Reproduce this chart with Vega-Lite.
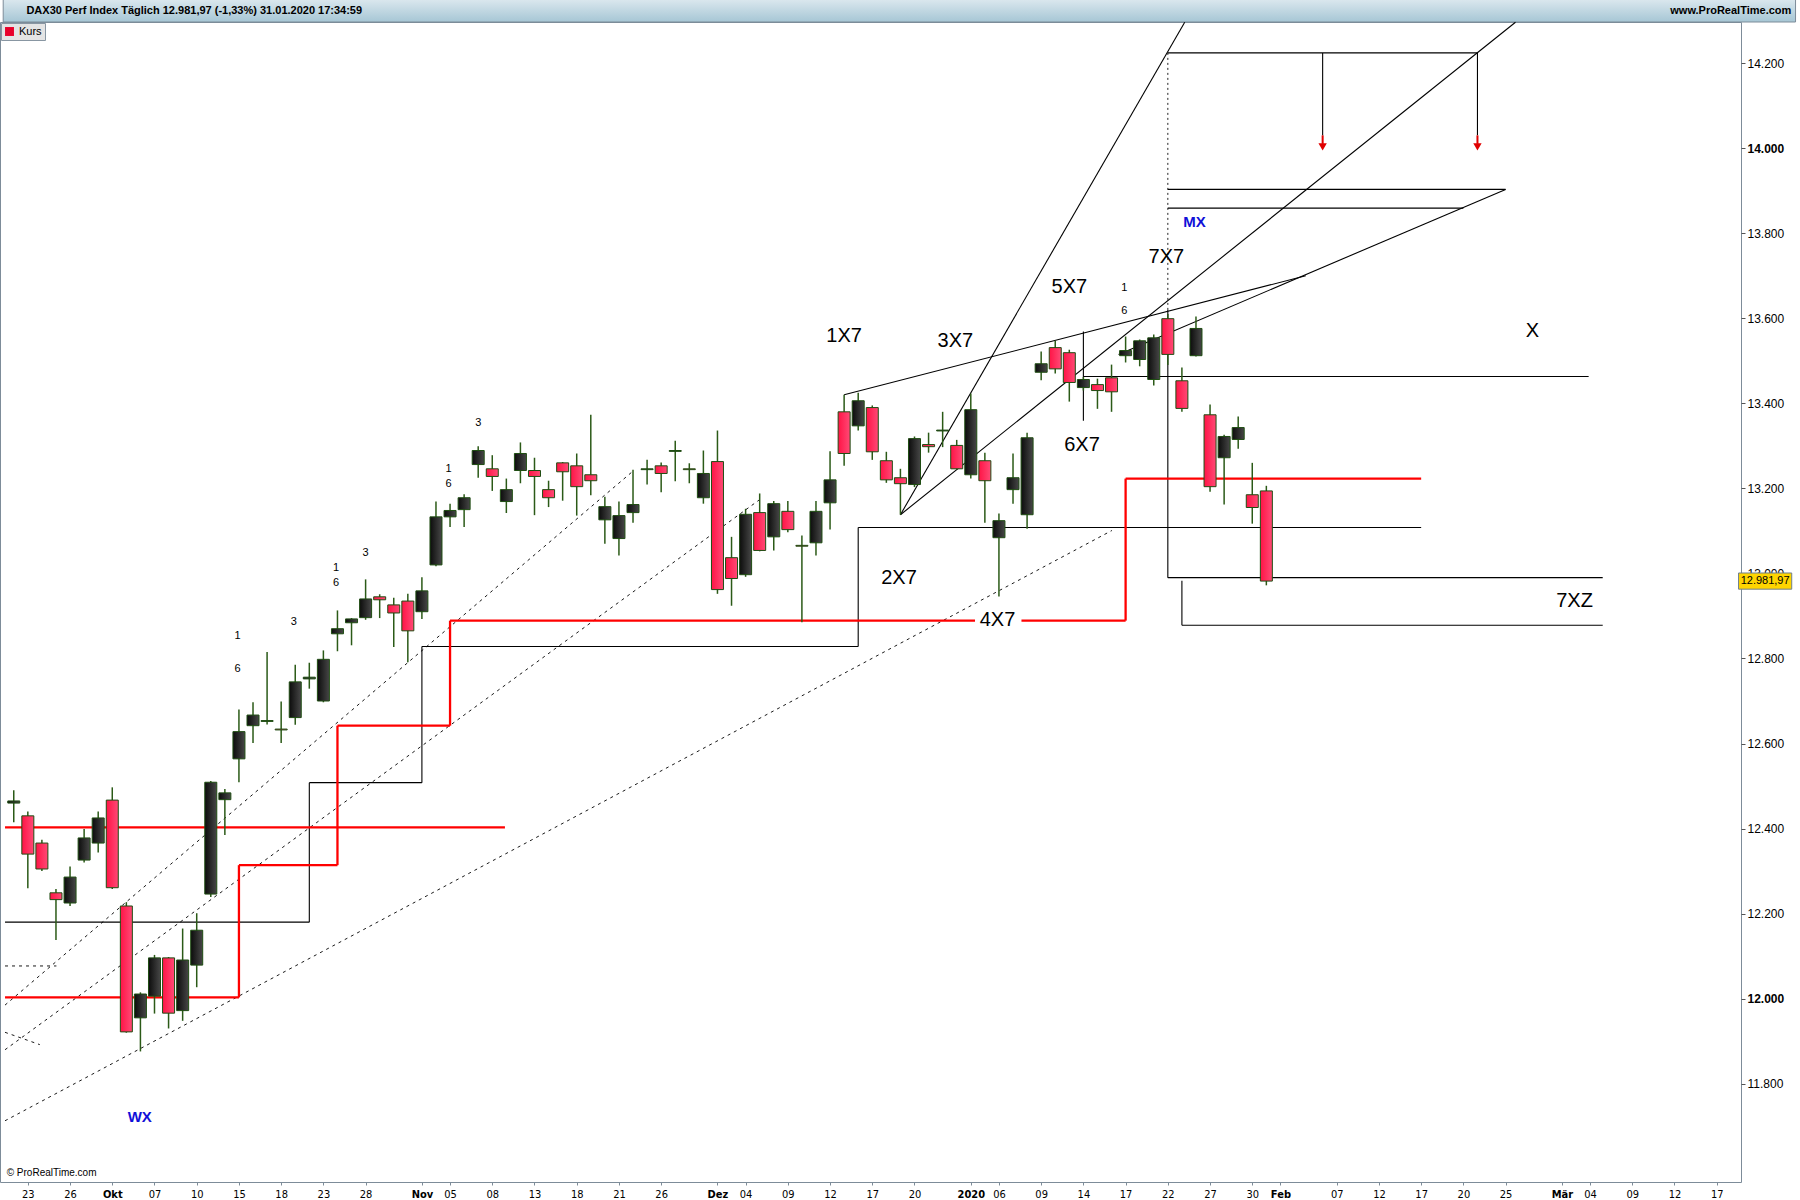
{
"$schema":"https://vega.github.io/schema/vega-lite/v6.json",
"width":1741,"height":1160,
"autosize":{"type":"none"},
"padding":{"left":0,"top":22,"right":59,"bottom":18},
"background":"#ffffff",
"config":{"view":{"stroke":"#7d8c99","strokeWidth":1},"font":"Liberation Sans"},
"resolve":{"axis":{"x":"independent","y":"independent"}},
"datasets":{
"candles":[
{"i":-1,"o":12460,"h":12490,"l":12415,"c":12465},
{"i":0,"o":12430,"h":12440,"l":12260,"c":12340},
{"i":1,"o":12366,"h":12374,"l":12300,"c":12305},
{"i":2,"o":12249,"h":12258,"l":12138,"c":12233},
{"i":3,"o":12225,"h":12311,"l":12218,"c":12286},
{"i":4,"o":12326,"h":12399,"l":12320,"c":12378},
{"i":5,"o":12366,"h":12440,"l":12344,"c":12425},
{"i":6,"o":12467,"h":12497,"l":12258,"c":12261},
{"i":7,"o":12218,"h":12227,"l":11920,"c":11922},
{"i":8,"o":11955,"h":12015,"l":11876,"c":12011},
{"i":9,"o":12006,"h":12103,"l":11965,"c":12096},
{"i":10,"o":12096,"h":12098,"l":11930,"c":11966},
{"i":11,"o":11972,"h":12165,"l":11948,"c":12091},
{"i":12,"o":12079,"h":12201,"l":12027,"c":12161},
{"i":13,"o":12246,"h":12512,"l":12239,"c":12509},
{"i":14,"o":12468,"h":12493,"l":12385,"c":12484},
{"i":15,"o":12564,"h":12680,"l":12509,"c":12628},
{"i":16,"o":12642,"h":12697,"l":12601,"c":12667},
{"i":17,"o":12652,"h":12815,"l":12645,"c":12654},
{"i":18,"o":12634,"h":12699,"l":12601,"c":12632},
{"i":19,"o":12661,"h":12785,"l":12644,"c":12745},
{"i":20,"o":12752,"h":12790,"l":12729,"c":12756},
{"i":21,"o":12700,"h":12819,"l":12697,"c":12798},
{"i":22,"o":12858,"h":12913,"l":12817,"c":12870},
{"i":23,"o":12884,"h":12895,"l":12831,"c":12893},
{"i":24,"o":12896,"h":12986,"l":12891,"c":12940},
{"i":25,"o":12945,"h":12951,"l":12895,"c":12938},
{"i":26,"o":12926,"h":12943,"l":12827,"c":12907},
{"i":27,"o":12935,"h":12952,"l":12791,"c":12865},
{"i":28,"o":12910,"h":12991,"l":12893,"c":12959},
{"i":29,"o":13020,"h":13169,"l":13017,"c":13133},
{"i":30,"o":13133,"h":13164,"l":13109,"c":13148},
{"i":31,"o":13150,"h":13186,"l":13109,"c":13178},
{"i":32,"o":13256,"h":13299,"l":13225,"c":13289},
{"i":33,"o":13246,"h":13278,"l":13194,"c":13228},
{"i":34,"o":13169,"h":13223,"l":13142,"c":13197},
{"i":35,"o":13242,"h":13308,"l":13212,"c":13282},
{"i":36,"o":13242,"h":13272,"l":13137,"c":13228},
{"i":37,"o":13197,"h":13218,"l":13156,"c":13178},
{"i":38,"o":13260,"h":13262,"l":13171,"c":13239},
{"i":39,"o":13253,"h":13282,"l":13136,"c":13204},
{"i":40,"o":13232,"h":13373,"l":13184,"c":13218},
{"i":41,"o":13126,"h":13180,"l":13070,"c":13157},
{"i":42,"o":13082,"h":13169,"l":13042,"c":13136},
{"i":43,"o":13143,"h":13244,"l":13119,"c":13162},
{"i":44,"o":13244,"h":13267,"l":13209,"c":13246},
{"i":45,"o":13253,"h":13261,"l":13191,"c":13235},
{"i":46,"o":13287,"h":13312,"l":13217,"c":13289},
{"i":47,"o":13246,"h":13259,"l":13212,"c":13244},
{"i":48,"o":13178,"h":13289,"l":13164,"c":13235},
{"i":49,"o":13263,"h":13336,"l":12952,"c":12962},
{"i":50,"o":13037,"h":13086,"l":12924,"c":12988},
{"i":51,"o":12997,"h":13152,"l":12992,"c":13139},
{"i":52,"o":13143,"h":13188,"l":13052,"c":13054},
{"i":53,"o":13086,"h":13170,"l":13054,"c":13164},
{"i":54,"o":13146,"h":13170,"l":13097,"c":13103},
{"i":55,"o":13066,"h":13089,"l":12885,"c":13064},
{"i":56,"o":13072,"h":13170,"l":13042,"c":13146},
{"i":57,"o":13166,"h":13287,"l":13103,"c":13220},
{"i":58,"o":13380,"h":13420,"l":13253,"c":13282},
{"i":59,"o":13347,"h":13425,"l":13336,"c":13406},
{"i":60,"o":13390,"h":13395,"l":13267,"c":13286},
{"i":61,"o":13265,"h":13286,"l":13213,"c":13220},
{"i":62,"o":13225,"h":13246,"l":13138,"c":13211},
{"i":63,"o":13209,"h":13322,"l":13203,"c":13317},
{"i":64,"o":13303,"h":13331,"l":13284,"c":13298},
{"i":65,"o":13335,"h":13380,"l":13297,"c":13337},
{"i":66,"o":13301,"h":13314,"l":13244,"c":13246},
{"i":67,"o":13232,"h":13423,"l":13223,"c":13385},
{"i":68,"o":13265,"h":13284,"l":13119,"c":13218},
{"i":69,"o":13084,"h":13141,"l":12946,"c":13124},
{"i":70,"o":13197,"h":13282,"l":13164,"c":13225},
{"i":71,"o":13138,"h":13331,"l":13105,"c":13319},
{"i":72,"o":13473,"h":13522,"l":13454,"c":13493},
{"i":73,"o":13531,"h":13547,"l":13470,"c":13481},
{"i":74,"o":13519,"h":13526,"l":13404,"c":13449},
{"i":75,"o":13437,"h":13462,"l":13430,"c":13456},
{"i":76,"o":13444,"h":13458,"l":13387,"c":13430},
{"i":77,"o":13460,"h":13491,"l":13380,"c":13427},
{"i":78,"o":13512,"h":13557,"l":13496,"c":13524},
{"i":79,"o":13503,"h":13550,"l":13487,"c":13547},
{"i":80,"o":13456,"h":13562,"l":13442,"c":13554},
{"i":81,"o":13599,"h":13610,"l":13490,"c":13515},
{"i":82,"o":13453,"h":13484,"l":13380,"c":13388},
{"i":83,"o":13512,"h":13604,"l":13510,"c":13576},
{"i":84,"o":13373,"h":13397,"l":13192,"c":13204},
{"i":85,"o":13272,"h":13326,"l":13162,"c":13322},
{"i":86,"o":13315,"h":13369,"l":13293,"c":13343},
{"i":87,"o":13185,"h":13260,"l":13117,"c":13155},
{"i":88,"o":13194,"h":13206,"l":12972,"c":12981.97}
],
"lines":[
{"k":"r","x":-1.62,"y":12403,"x2":33.9,"y2":12403},
{"k":"r","x":-1.62,"y":12003,"x2":15,"y2":12003},
{"k":"r","x":15,"y":12003,"x2":15,"y2":12314},
{"k":"r","x":15,"y":12314,"x2":22,"y2":12314},
{"k":"r","x":22,"y":12314,"x2":22,"y2":12642},
{"k":"r","x":22,"y":12642,"x2":30,"y2":12642},
{"k":"r","x":30,"y":12642,"x2":30,"y2":12889},
{"k":"r","x":30,"y":12889,"x2":67.3,"y2":12889},
{"k":"r","x":70.6,"y":12889,"x2":78,"y2":12889},
{"k":"r","x":78,"y":12889,"x2":78,"y2":13223},
{"k":"r","x":78,"y":13223,"x2":99,"y2":13223},
{"k":"b","x":-1.62,"y":12180,"x2":20,"y2":12180},
{"k":"b","x":20,"y":12180,"x2":20,"y2":12508},
{"k":"b","x":20,"y":12508,"x2":28,"y2":12508},
{"k":"b","x":28,"y":12508,"x2":28,"y2":12828},
{"k":"b","x":28,"y":12828,"x2":59,"y2":12828},
{"k":"b","x":59,"y":12828,"x2":59,"y2":13108},
{"k":"b","x":59,"y":13108,"x2":99,"y2":13108},
{"k":"b","x":75,"y":13359,"x2":75,"y2":13569},
{"k":"b","x":75,"y":13463,"x2":110.9,"y2":13463},
{"k":"b","x":81,"y":13620,"x2":81,"y2":12990},
{"k":"b","x":81,"y":12990,"x2":111.9,"y2":12990},
{"k":"b","x":82,"y":12983,"x2":82,"y2":12878},
{"k":"b","x":82,"y":12878,"x2":111.9,"y2":12878},
{"k":"b","x":81,"y":14224,"x2":103,"y2":14224},
{"k":"b","x":92,"y":14224,"x2":92,"y2":14030},
{"k":"b","x":103,"y":14224,"x2":103,"y2":14030},
{"k":"b","x":81,"y":13903,"x2":105,"y2":13903},
{"k":"b","x":81,"y":13859,"x2":102,"y2":13859},
{"k":"b","x":58,"y":13420,"x2":90.8,"y2":13700},
{"k":"b","x":62,"y":13138,"x2":82.2,"y2":14296},
{"k":"b","x":62,"y":13138,"x2":105.7,"y2":14296},
{"k":"b","x":77.5,"y":13515,"x2":105,"y2":13903},
{"k":"d","x":-1.62,"y":11985,"x2":43.05,"y2":13242},
{"k":"d","x":-1.62,"y":11880,"x2":52.1,"y2":13176},
{"k":"d","x":-1.62,"y":11713,"x2":77.03,"y2":13101},
{"k":"d","x":-1.62,"y":12077,"x2":2.03,"y2":12077},
{"k":"d","x":-1.62,"y":11921,"x2":0.85,"y2":11892},
{"k":"v","x":81,"y":14224,"x2":81,"y2":13620}
],
"arrows":[
{"x":92,"y":14030,"y2":14010,"tip":14003},
{"x":103,"y":14030,"y2":14010,"tip":14003}
],
"labels":[
{"k":"big","x":58.0,"y":13559,"t":"1X7"},
{"k":"big","x":65.9,"y":13546,"t":"3X7"},
{"k":"big","x":74.0,"y":13673,"t":"5X7"},
{"k":"big","x":80.9,"y":13743,"t":"7X7"},
{"k":"big","x":74.9,"y":13303,"t":"6X7"},
{"k":"big","x":61.9,"y":12989,"t":"2X7"},
{"k":"big","x":68.9,"y":12891,"t":"4X7"},
{"k":"big","x":106.9,"y":13570,"t":"X"},
{"k":"big","x":109.9,"y":12935,"t":"7XZ"},
{"k":"blue","x":82.9,"y":13827,"t":"MX"},
{"k":"blue","x":7.95,"y":11722,"t":"WX"},
{"k":"small","x":14.9,"y":12854,"t":"1"},
{"k":"small","x":14.9,"y":12776,"t":"6"},
{"k":"small","x":18.9,"y":12886,"t":"3"},
{"k":"small","x":21.9,"y":13013,"t":"1"},
{"k":"small","x":21.9,"y":12978,"t":"6"},
{"k":"small","x":24.0,"y":13049,"t":"3"},
{"k":"small","x":29.9,"y":13246,"t":"1"},
{"k":"small","x":29.9,"y":13211,"t":"6"},
{"k":"small","x":32.0,"y":13354,"t":"3"},
{"k":"small","x":77.9,"y":13670,"t":"1"},
{"k":"small","x":77.9,"y":13616,"t":"6"}
],
"header":[
{"t":"DAX30 Perf Index Täglich 12.981,97 (-1,33%) 31.01.2020 17:34:59","side":"left"},
{"t":"www.ProRealTime.com","side":"right"}
]
},
"layer":[
{"data":{"values":[{"band":"header"}]},
 "mark":{"type":"rect","fill":{"gradient":"linear","x1":0,"y1":0,"x2":0,"y2":1,"stops":[{"offset":0,"color":"#dde9ef"},{"offset":1,"color":"#a6c6d5"}]},"stroke":"#7d8c99","strokeWidth":1},
 "encoding":{"x":{"datum":-1.75,"type":"quantitative","scale":{"domain":[-1.622,121.37],"nice":false,"zero":false},"axis":null},
  "x2":{"datum":125.6},
  "y":{"datum":14296.6,"type":"quantitative","scale":{"domain":[11569,14296.6],"nice":false,"zero":false},"axis":null},
  "y2":{"datum":14352}}},
{"data":{"name":"header"},"transform":[{"filter":"datum.side=='left'"}],
 "mark":{"type":"text","font":"Liberation Sans","fontSize":11,"fontWeight":"bold","color":"#000000","align":"left","baseline":"middle"},
 "encoding":{"x":{"datum":-0.1,"type":"quantitative","scale":{"domain":[-1.622,121.37],"nice":false,"zero":false},"axis":null},
  "y":{"datum":14322,"type":"quantitative","scale":{"domain":[11569,14296.6],"nice":false,"zero":false},"axis":null},
  "text":{"field":"t"}}},
{"data":{"name":"header"},"transform":[{"filter":"datum.side=='right'"}],
 "mark":{"type":"text","font":"Liberation Sans","fontSize":11,"fontWeight":"bold","color":"#000000","align":"right","baseline":"middle"},
 "encoding":{"x":{"datum":125.3,"type":"quantitative","scale":{"domain":[-1.622,121.37],"nice":false,"zero":false},"axis":null},
  "y":{"datum":14322,"type":"quantitative","scale":{"domain":[11569,14296.6],"nice":false,"zero":false},"axis":null},
  "text":{"field":"t"}}},
{"data":{"name":"lines"},"transform":[{"filter":"datum.k=='d'"}],
 "mark":{"type":"rule","color":"#1a1a1a","strokeWidth":1,"strokeDash":[3,4]},
 "encoding":{"x":{"field":"x","type":"quantitative","scale":{"domain":[-1.622,121.37],"nice":false,"zero":false},"axis":null},
  "y":{"field":"y","type":"quantitative","scale":{"domain":[11569,14296.6],"nice":false,"zero":false},"axis":null},
  "x2":{"field":"x2"},"y2":{"field":"y2"}}},
{"data":{"name":"lines"},"transform":[{"filter":"datum.k=='v'"}],
 "mark":{"type":"rule","color":"#222222","strokeWidth":1,"strokeDash":[2,3]},
 "encoding":{"x":{"field":"x","type":"quantitative","scale":{"domain":[-1.622,121.37],"nice":false,"zero":false},"axis":null},
  "y":{"field":"y","type":"quantitative","scale":{"domain":[11569,14296.6],"nice":false,"zero":false},"axis":null},
  "x2":{"field":"x2"},"y2":{"field":"y2"}}},
{"data":{"name":"lines"},"transform":[{"filter":"datum.k=='b'"}],
 "mark":{"type":"rule","color":"#000000","strokeWidth":1.1},
 "encoding":{"x":{"field":"x","type":"quantitative","scale":{"domain":[-1.622,121.37],"nice":false,"zero":false},"axis":null},
  "y":{"field":"y","type":"quantitative","scale":{"domain":[11569,14296.6],"nice":false,"zero":false},"axis":null},
  "x2":{"field":"x2"},"y2":{"field":"y2"}}},
{"data":{"name":"lines"},"transform":[{"filter":"datum.k=='r'"}],
 "mark":{"type":"rule","color":"#ff0000","strokeWidth":2.3},
 "encoding":{"x":{"field":"x","type":"quantitative","scale":{"domain":[-1.622,121.37],"nice":false,"zero":false},"axis":null},
  "y":{"field":"y","type":"quantitative","scale":{"domain":[11569,14296.6],"nice":false,"zero":false},"axis":null},
  "x2":{"field":"x2"},"y2":{"field":"y2"}}},
{"data":{"name":"candles"},
 "mark":{"type":"rule","color":"#2b5a17","strokeWidth":1.5},
 "encoding":{"x":{"field":"i","type":"quantitative","scale":{"domain":[-1.622,121.37],"nice":false,"zero":false},
   "axis":{"orient":"bottom","title":null,"grid":false,"domain":false,"ticks":true,"tickSize":3,"tickColor":"#7d8c99","labelFont":"DejaVu Sans Condensed, Liberation Sans, sans-serif","labelFontSize":11,"labelColor":"#000000","labelPadding":3,"labelFlush":false,"labelOverlap":false,
    "values":[0,3,6,9,12,15,18,21,24,28,30,33,36,39,42,45,49,51,54,57,60,63,67,69,72,75,78,81,84,87,89,93,96,99,102,105,109,111,114,117,120],
    "labelExpr":"['23','26','Okt','07','10','15','18','23','28','Nov','05','08','13','18','21','26','Dez','04','09','12','17','20','2020','06','09','14','17','22','27','30','Feb','07','12','17','20','25','Mär','04','09','12','17'][indexof([0,3,6,9,12,15,18,21,24,28,30,33,36,39,42,45,49,51,54,57,60,63,67,69,72,75,78,81,84,87,89,93,96,99,102,105,109,111,114,117,120],datum.value)]",
    "labelFontWeight":{"condition":{"test":"indexof([6,28,49,67,89,109],datum.value)>=0","value":"bold"},"value":"normal"}}},
  "y":{"field":"l","type":"quantitative","scale":{"domain":[11569,14296.6],"nice":false,"zero":false},
   "axis":{"orient":"right","title":null,"grid":false,"domain":false,"ticks":true,"tickSize":4,"tickColor":"#555555","labelFont":"Liberation Sans","labelFontSize":12,"labelColor":"#000000","labelPadding":2,
    "values":[11800,12000,12200,12400,12600,12800,13000,13200,13400,13600,13800,14000,14200],
    "labelExpr":"replace(format(datum.value,','),',','.')",
    "labelFontWeight":{"condition":{"test":"datum.value==14000||datum.value==12000","value":"bold"},"value":"normal"}}},
  "y2":{"field":"h"}}},
{"data":{"name":"candles"},"transform":[{"filter":"datum.c>=datum.o"}],
 "mark":{"type":"bar","size":12,"stroke":"#1f4d12","strokeWidth":1,
  "fill":{"gradient":"linear","x1":0,"y1":0,"x2":1,"y2":0,"stops":[{"offset":0,"color":"#0c0c0c"},{"offset":1,"color":"#474747"}]}},
 "encoding":{"x":{"field":"i","type":"quantitative","scale":{"domain":[-1.622,121.37],"nice":false,"zero":false},"axis":null},
  "y":{"field":"o","type":"quantitative","scale":{"domain":[11569,14296.6],"nice":false,"zero":false},"axis":null},
  "y2":{"field":"c"}}},
{"data":{"name":"candles"},"transform":[{"filter":"datum.c<datum.o"}],
 "mark":{"type":"bar","size":12,"stroke":"#1f4d12","strokeWidth":1,
  "fill":{"gradient":"linear","x1":0,"y1":0,"x2":1,"y2":0,"stops":[{"offset":0,"color":"#ff1446"},{"offset":1,"color":"#ff4a76"}]}},
 "encoding":{"x":{"field":"i","type":"quantitative","scale":{"domain":[-1.622,121.37],"nice":false,"zero":false},"axis":null},
  "y":{"field":"o","type":"quantitative","scale":{"domain":[11569,14296.6],"nice":false,"zero":false},"axis":null},
  "y2":{"field":"c"},
  "color":{"datum":"Kurs","type":"nominal","scale":{"domain":["Kurs"],"range":["#e8002a"]},
   "legend":{"title":null,"orient":"top-left","offset":1,"padding":3,"fillColor":"#e4e4e4","strokeColor":"#8896a2","symbolType":"square","symbolSize":80,"symbolStrokeWidth":0,"symbolOpacity":1,"labelFont":"Liberation Sans","labelFontSize":11,"labelColor":"#000000"}}}},
{"data":{"name":"arrows"},
 "mark":{"type":"rule","color":"#e00000","strokeWidth":2},
 "encoding":{"x":{"field":"x","type":"quantitative","scale":{"domain":[-1.622,121.37],"nice":false,"zero":false},"axis":null},
  "y":{"field":"y","type":"quantitative","scale":{"domain":[11569,14296.6],"nice":false,"zero":false},"axis":null},
  "y2":{"field":"y2"}}},
{"data":{"name":"arrows"},
 "mark":{"type":"point","shape":"triangle-down","filled":true,"color":"#e00000","size":70,"opacity":1},
 "encoding":{"x":{"field":"x","type":"quantitative","scale":{"domain":[-1.622,121.37],"nice":false,"zero":false},"axis":null},
  "y":{"field":"tip","type":"quantitative","scale":{"domain":[11569,14296.6],"nice":false,"zero":false},"axis":null}}},
{"data":{"name":"labels"},"transform":[{"filter":"datum.k=='big'"}],
 "mark":{"type":"text","font":"Liberation Sans","fontSize":20,"color":"#000000","align":"center","baseline":"middle"},
 "encoding":{"x":{"field":"x","type":"quantitative","scale":{"domain":[-1.622,121.37],"nice":false,"zero":false},"axis":null},
  "y":{"field":"y","type":"quantitative","scale":{"domain":[11569,14296.6],"nice":false,"zero":false},"axis":null},
  "text":{"field":"t"}}},
{"data":{"name":"labels"},"transform":[{"filter":"datum.k=='blue'"}],
 "mark":{"type":"text","font":"Liberation Sans","fontSize":15,"fontWeight":"bold","color":"#1010d8","align":"center","baseline":"middle"},
 "encoding":{"x":{"field":"x","type":"quantitative","scale":{"domain":[-1.622,121.37],"nice":false,"zero":false},"axis":null},
  "y":{"field":"y","type":"quantitative","scale":{"domain":[11569,14296.6],"nice":false,"zero":false},"axis":null},
  "text":{"field":"t"}}},
{"data":{"name":"labels"},"transform":[{"filter":"datum.k=='small'"}],
 "mark":{"type":"text","font":"Liberation Sans","fontSize":11,"color":"#000000","align":"center","baseline":"middle"},
 "encoding":{"x":{"field":"x","type":"quantitative","scale":{"domain":[-1.622,121.37],"nice":false,"zero":false},"axis":null},
  "y":{"field":"y","type":"quantitative","scale":{"domain":[11569,14296.6],"nice":false,"zero":false},"axis":null},
  "text":{"field":"t"}}},
{"data":{"values":[{"t":"© ProRealTime.com"}]},
 "mark":{"type":"text","font":"Liberation Sans","fontSize":10,"color":"#000000","align":"left","baseline":"middle"},
 "encoding":{"x":{"datum":-1.5,"type":"quantitative","scale":{"domain":[-1.622,121.37],"nice":false,"zero":false},"axis":null},
  "y":{"datum":11590,"type":"quantitative","scale":{"domain":[11569,14296.6],"nice":false,"zero":false},"axis":null},
  "text":{"field":"t"}}},
{"data":{"values":[{"p":12981.97}]},
 "mark":{"type":"rect","fill":"#ffd500","stroke":"#6f7f8f","strokeWidth":1},
 "encoding":{"x":{"datum":121.55,"type":"quantitative","scale":{"domain":[-1.622,121.37],"nice":false,"zero":false},"axis":null},
  "x2":{"datum":125.33},
  "y":{"datum":12963,"type":"quantitative","scale":{"domain":[11569,14296.6],"nice":false,"zero":false},"axis":null},
  "y2":{"datum":13001}}},
{"data":{"values":[{"p":12981.97,"t":"12.981,97"}]},
 "mark":{"type":"text","font":"Liberation Sans","fontSize":11,"color":"#000000","align":"center","baseline":"middle"},
 "encoding":{"x":{"datum":123.44,"type":"quantitative","scale":{"domain":[-1.622,121.37],"nice":false,"zero":false},"axis":null},
  "y":{"field":"p","type":"quantitative","scale":{"domain":[11569,14296.6],"nice":false,"zero":false},"axis":null},
  "text":{"field":"t"}}}
]
}
